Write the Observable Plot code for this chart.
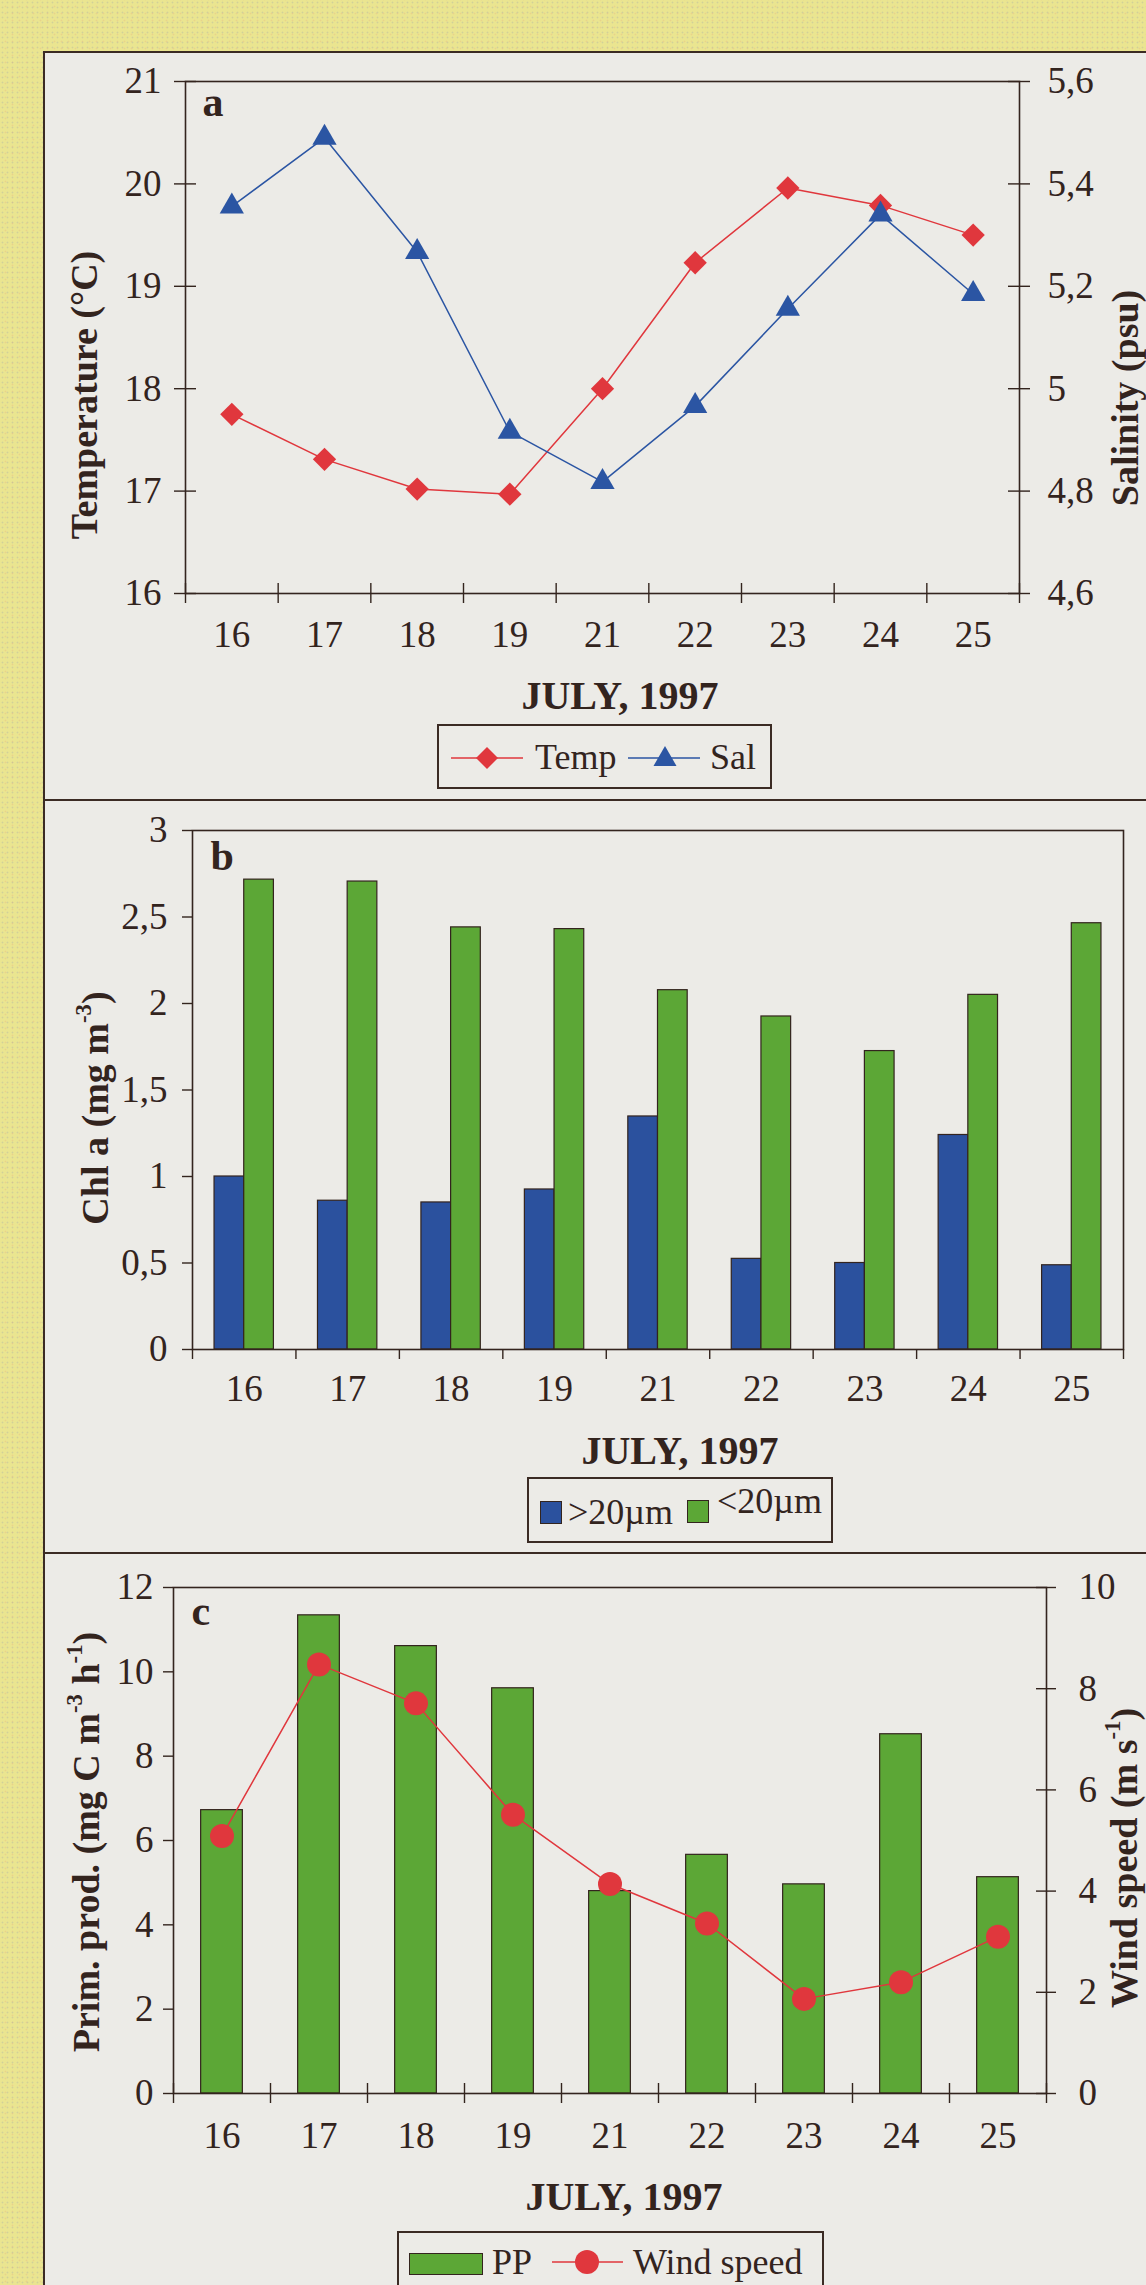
<!DOCTYPE html>
<html><head><meta charset="utf-8">
<script src="https://cdn.jsdelivr.net/npm/d3@7"></script>
<script src="https://cdn.jsdelivr.net/npm/@observablehq/plot@0.6"></script>
<style>
html,body{margin:0;padding:0}
body{width:1146px;height:2285px;overflow:hidden;position:relative;font-family:"Liberation Serif","Times New Roman",Times,serif;color:#33241e;
 background-color:#eae590;
 background-image:radial-gradient(circle, rgba(150,155,175,.28) 0.7px, transparent 1.2px), radial-gradient(circle, rgba(225,150,120,.22) 0.7px, transparent 1.2px);
 background-size:5px 5px, 7px 7px; background-position:0 0,2px 3px;}
#panel{position:absolute;left:43px;top:51px;width:1200px;height:2400px;background:#ecebe7;border-left:2px solid #3b2b24;border-top:2px solid #3b2b24}
.hr{position:absolute;left:43px;width:1200px;border-top:2px solid #3b2b24;height:0}
.chart{position:absolute;left:0}
.ttl{position:absolute;font-weight:bold;font-size:40px;white-space:nowrap;transform:translate(-50%,-50%);line-height:1}
.yt{position:absolute;font-weight:bold;font-size:38px;white-space:nowrap;line-height:1;transform:translate(-50%,-50%) rotate(-90deg)}
.yt sup{font-size:60%;vertical-align:0;position:relative;top:-0.75em}
.lg{position:absolute;border:2px solid #3b2b24;box-sizing:border-box;font-size:36px;background:#ecebe7;font-family:"Liberation Serif","Times New Roman",Times,serif}
.lg > *{position:absolute;line-height:1;white-space:nowrap}
.lg span{transform:translateY(-50%)}
</style></head>
<body>
<div id="panel"></div>
<div class="hr" style="top:799px"></div>
<div class="hr" style="top:1552px"></div>
<div id="charts"></div>

<div class="ttl" style="left:620px;top:696px">JULY, 1997</div>
<div class="ttl" style="left:680px;top:1451px">JULY, 1997</div>
<div class="ttl" style="left:624px;top:2197px">JULY, 1997</div>

<div class="yt" style="left:84px;top:395px">Temperature (°C)</div>
<div class="yt" style="left:1125px;top:398px">Salinity (psu)</div>
<div class="yt" style="left:95px;top:1108px">Chl a (mg m<sup>-3</sup>)</div>
<div class="yt" style="left:86px;top:1842px">Prim. prod. (mg C m<sup>-3</sup> h<sup>-1</sup>)</div>
<div class="yt" style="left:1124px;top:1858px">Wind speed (m s<sup>-1</sup>)</div>

<div class="lg" style="left:437px;top:724px;width:335px;height:65px">
  <svg style="left:12px;top:20px" width="74" height="24"><line x1="0" y1="12" x2="72" y2="12" stroke="#e0373d" stroke-width="1.5"/><path d="M36,1 L47,12 L36,23 L25,12Z" fill="#e0373d"/></svg>
  <span style="left:96px;top:31px">Temp</span>
  <svg style="left:189px;top:19px" width="74" height="24"><line x1="0" y1="13" x2="72" y2="13" stroke="#2b55a3" stroke-width="1.5"/><path d="M37,1 L48.5,21 L25.5,21Z" fill="#2b55a3"/></svg>
  <span style="left:271px;top:31px">Sal</span>
</div>

<div class="lg" style="left:527px;top:1477px;width:306px;height:66px">
  <div style="left:11px;top:22px;width:20px;height:21px;background:#2b519e;border:1px solid #33241e"></div>
  <span style="left:39px;top:33px">&gt;20µm</span>
  <div style="left:158px;top:21px;width:20px;height:21px;background:#5ca736;border:1px solid #33241e"></div>
  <span style="left:188px;top:22px">&lt;20µm</span>
</div>

<div class="lg" style="left:397px;top:2231px;width:427px;height:90px">
  <div style="left:10px;top:20px;width:72px;height:20px;background:#5ca736;border:1px solid #33241e"></div>
  <span style="left:93px;top:29px">PP</span>
  <svg style="left:153px;top:16px" width="72" height="26"><line x1="0" y1="13" x2="71" y2="13" stroke="#e0373d" stroke-width="1.5"/><circle cx="35" cy="13" r="12" fill="#e0373d"/></svg>
  <span style="left:234px;top:29px">Wind speed</span>
</div>

<script>
// ---------- data ----------
const days = ["16","17","18","19","21","22","23","24","25"];
// panel a
const temp = [17.75, 17.31, 17.02, 16.97, 18.0, 19.23, 19.96, 19.79, 19.5];
const sal  = [5.356, 5.49, 5.267, 4.916, 4.818, 4.966, 5.156, 5.34, 5.185];
const tempTicks = [16, 17, 18, 19, 20, 21];
const salTicks  = [4.6, 4.8, 5.0, 5.2, 5.4, 5.6];
// panel b
const chlLarge = [1.0, 0.86, 0.85, 0.925, 1.347, 0.524, 0.50, 1.24, 0.487];
const chlSmall = [2.716, 2.705, 2.44, 2.43, 2.077, 1.925, 1.725, 2.05, 2.464];
const chlTicks = [0, 0.5, 1, 1.5, 2, 2.5, 3];
// panel c
const pp   = [6.72, 11.34, 10.61, 9.61, 4.80, 5.66, 4.96, 8.52, 5.13];
const wind = [5.09, 8.48, 7.71, 5.51, 4.14, 3.36, 1.87, 2.2, 3.1];
const ppTicks   = [0, 2, 4, 6, 8, 10, 12];
const windTicks = [0, 2, 4, 6, 8, 10];

// ---------- styles ----------
const ink = "#33241e", red = "#e0373d", blue = "#2b55a3", barBlue = "#2b519e", green = "#5ca736";
const fmt = v => String(Math.round(v * 10) / 10).replace(".", ",");
const n = days.length;
const bounds = d3.range(n + 1);
const style = {background: "transparent", fontFamily: "'Liberation Serif', 'Times New Roman', Times, serif", fontSize: "37px", color: ink, overflow: "visible"};
const TF = 37;

function put(svg, top) {
  svg.classList.add("chart");
  svg.style.top = top + "px";
  document.getElementById("charts").append(svg);
}

// ---------- panel a ----------
const tempDomain = [16, 21], salDomain = [4.6, 5.6];
const salToT = d3.scaleLinear(salDomain, tempDomain);
const rowsA = days.map((d, i) => ({c: i + 0.5, day: d, temp: temp[i], salT: salToT(sal[i])}));

put(Plot.plot({
  width: 1146, height: 748,
  marginLeft: 185, marginRight: 127, marginTop: 29, marginBottom: 207,
  x: {domain: [0, n], axis: null},
  y: {domain: tempDomain, axis: null},
  style,
  marks: [
    Plot.frame({stroke: ink, strokeWidth: 1.6}),
    Plot.ruleY(tempTicks, {y: d => d, x1: 0, x2: 0, insetLeft: -11, insetRight: -11, stroke: ink, strokeWidth: 1.4}),
    Plot.text(tempTicks, {y: d => d, x: 0, text: d => fmt(d), textAnchor: "end", dx: -24, fontSize: TF, fill: ink}),
    Plot.ruleY(salTicks, {y: d => salToT(d), x1: n, x2: n, insetLeft: -11, insetRight: -11, stroke: ink, strokeWidth: 1.4}),
    Plot.text(salTicks, {y: d => salToT(d), x: n, text: d => fmt(d), textAnchor: "start", dx: 28, fontSize: TF, fill: ink}),
    Plot.ruleX(bounds, {x: d => d, y1: tempDomain[0], y2: tempDomain[0], insetTop: -10, insetBottom: -10, stroke: ink, strokeWidth: 1.4}),
    Plot.text(rowsA, {x: "c", y: tempDomain[0], text: "day", dy: 42, fontSize: TF, fill: ink}),
    Plot.line(rowsA, {x: "c", y: "temp", stroke: red, strokeWidth: 1.5}),
    Plot.dot(rowsA, {x: "c", y: "temp", symbol: "diamond2", r: 10.5, fill: red}),
    Plot.line(rowsA, {x: "c", y: "salT", stroke: blue, strokeWidth: 1.5}),
    Plot.dot(rowsA, {x: "c", y: "salT", symbol: "triangle", r: 9, fill: blue}),
    Plot.text(["a"], {frameAnchor: "top-left", text: d => d, dx: 17, dy: 5, fontWeight: "bold", fontSize: 42, fill: ink})
  ]
}), 52);

// ---------- panel b ----------
const chlDomain = [0, 3];
const padB = 0.213;
const rowsB = days.map((d, i) => ({i, c: i + 0.5, day: d, large: chlLarge[i], small: chlSmall[i]}));

put(Plot.plot({
  width: 1146, height: 753,
  marginLeft: 192, marginRight: 23, marginTop: 30, marginBottom: 204,
  x: {domain: [0, n], axis: null},
  y: {domain: chlDomain, axis: null},
  style,
  marks: [
    Plot.rect(rowsB, {x1: d => d.i + padB, x2: d => d.i + 0.5, y1: 0, y2: "large", fill: barBlue, stroke: ink, strokeWidth: 1.2}),
    Plot.rect(rowsB, {x1: d => d.i + 0.5, x2: d => d.i + 1 - padB, y1: 0, y2: "small", fill: green, stroke: ink, strokeWidth: 1.2}),
    Plot.frame({stroke: ink, strokeWidth: 1.6}),
    Plot.ruleY(chlTicks, {y: d => d, x1: 0, x2: 0, insetLeft: -10, insetRight: 0, stroke: ink, strokeWidth: 1.4}),
    Plot.text(chlTicks, {y: d => d, x: 0, text: d => fmt(d), textAnchor: "end", dx: -25, fontSize: TF, fill: ink}),
    Plot.ruleX(bounds, {x: d => d, y1: 0, y2: 0, insetTop: 0, insetBottom: -10, stroke: ink, strokeWidth: 1.4}),
    Plot.text(rowsB, {x: "c", y: 0, text: "day", dy: 40, fontSize: TF, fill: ink}),
    Plot.text(["b"], {frameAnchor: "top-left", text: d => d, dx: 18, dy: 10, fontWeight: "bold", fontSize: 42, fill: ink})
  ]
}), 800);

// ---------- panel c ----------
const ppDomain = [0, 12], windDomain = [0, 10];
const windToP = d3.scaleLinear(windDomain, ppDomain);
const rowsC = days.map((d, i) => ({i, c: i + 0.5, day: d, pp: pp[i], windP: windToP(wind[i])}));
const padC = 0.285;

put(Plot.plot({
  width: 1146, height: 732,
  marginLeft: 173, marginRight: 100, marginTop: 34, marginBottom: 192,
  x: {domain: [0, n], axis: null},
  y: {domain: ppDomain, axis: null},
  style,
  marks: [
    Plot.rect(rowsC, {x1: d => d.i + padC, x2: d => d.i + 1 - padC, y1: 0, y2: "pp", fill: green, stroke: ink, strokeWidth: 1.2}),
    Plot.frame({stroke: ink, strokeWidth: 1.6}),
    Plot.ruleY(ppTicks, {y: d => d, x1: 0, x2: 0, insetLeft: -10, insetRight: 0, stroke: ink, strokeWidth: 1.4}),
    Plot.text(ppTicks, {y: d => d, x: 0, text: d => fmt(d), textAnchor: "end", dx: -20, fontSize: TF, fill: ink}),
    Plot.ruleY(windTicks, {y: d => windToP(d), x1: n, x2: n, insetLeft: -10, insetRight: -10, stroke: ink, strokeWidth: 1.4}),
    Plot.text(windTicks, {y: d => windToP(d), x: n, text: d => fmt(d), textAnchor: "start", dx: 32, fontSize: TF, fill: ink}),
    Plot.ruleX(bounds, {x: d => d, y1: 0, y2: 0, insetTop: -10, insetBottom: -10, stroke: ink, strokeWidth: 1.4}),
    Plot.text(rowsC, {x: "c", y: 0, text: "day", dy: 43, fontSize: TF, fill: ink}),
    Plot.line(rowsC, {x: "c", y: "windP", stroke: red, strokeWidth: 1.5}),
    Plot.dot(rowsC, {x: "c", y: "windP", r: 12, fill: red}),
    Plot.text(["c"], {frameAnchor: "top-left", text: d => d, dx: 18, dy: 8, fontWeight: "bold", fontSize: 42, fill: ink})
  ]
}), 1553);
</script>
</body></html>
